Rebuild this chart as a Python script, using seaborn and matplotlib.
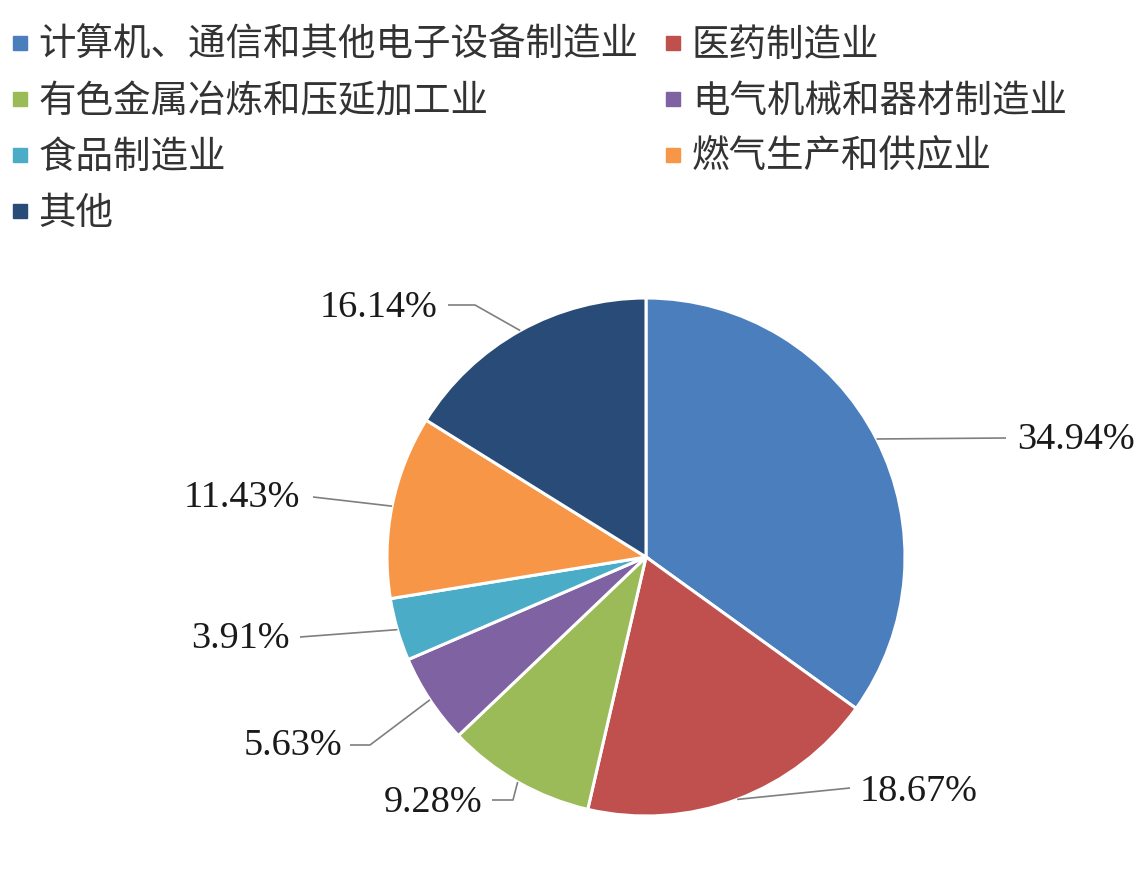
import numpy as np
import matplotlib
matplotlib.use("Agg")
import matplotlib.pyplot as plt
from matplotlib.lines import Line2D
import seaborn as sns

industries = ["计算机、通信和其他电子设备制造业", "医药制造业", "有色金属冶炼和压延加工业",
              "电气机械和器材制造业", "食品制造业", "燃气生产和供应业", "其他"]
shares = [34.94, 18.67, 9.28, 5.63, 3.91, 11.43, 16.14]
labels = ["34.94%", "18.67%", "9.28%", "5.63%", "3.91%", "11.43%", "16.14%"]
colors = ["#4a7ebd", "#c0504d", "#9bbb59", "#7e62a1", "#4aacc6", "#f79646", "#284b78"]

sns.set_theme(style="white")
plt.rcParams['font.family'] = ['Noto Sans CJK SC', 'DejaVu Sans']

fig = plt.figure(figsize=(11.35, 8.85), dpi=100)
ax = fig.add_axes([0, 0, 1, 1])

# pie in pixel-like coordinates (y up)
cx, cy, r = 646, 885 - 557, 259
wedges, _ = ax.pie(shares, colors=sns.color_palette(colors), startangle=90, counterclock=False,
                   center=(cx, cy), radius=r, frame=True,
                   wedgeprops=dict(edgecolor="white", linewidth=2.2))
ax.set_xlim(0, 1135)
ax.set_ylim(0, 885)
ax.set_aspect("equal")
ax.axis("off")

# label layout: text anchor, alignment, leader start, optional elbow
label_pos = [
    ((1017, 885 - 440), "left", (1006, 885 - 438), None),
    ((860, 885 - 792), "left", (850, 885 - 788), None),
    ((482, 885 - 803), "right", (492, 885 - 800), (513, 885 - 800)),
    ((342, 885 - 746), "right", (350, 885 - 745), (370, 885 - 745)),
    ((290, 885 - 639), "right", (300, 885 - 637), None),
    ((300, 885 - 498), "right", (313, 885 - 497), None),
    ((437, 885 - 308), "right", (448, 885 - 305), (475, 885 - 305)),
]

for w, lab, (tpos, ha, start, elbow) in zip(wedges, labels, label_pos):
    mid = np.deg2rad((w.theta1 + w.theta2) / 2)
    ex, ey = cx + r * np.cos(mid), cy + r * np.sin(mid)
    pts = [start] + ([elbow] if elbow else []) + [(ex, ey)]
    xs, ys = zip(*pts)
    ax.plot(xs, ys, color="#7f7f7f", lw=1.2, solid_capstyle="butt")
    ax.text(tpos[0], tpos[1], lab, ha=ha, va="center", fontsize=27.5,
            family=["Liberation Serif", "DejaVu Serif"], color="#1a1a1a")

order = [0, 2, 4, 6, 1, 3, 5]
handles = [Line2D([], [], marker="s", ls="", markersize=10, color=colors[i]) for i in order]
fig.legend(handles, [industries[i] for i in order], ncol=2, loc="upper left",
           bbox_to_anchor=(0.011, 0.971), frameon=False, fontsize=27,
           handlelength=0.4, handletextpad=0.3, columnspacing=0.72,
           labelspacing=0.46, borderaxespad=0, borderpad=0, labelcolor="#333333")

fig.savefig("out.png", dpi=100)
